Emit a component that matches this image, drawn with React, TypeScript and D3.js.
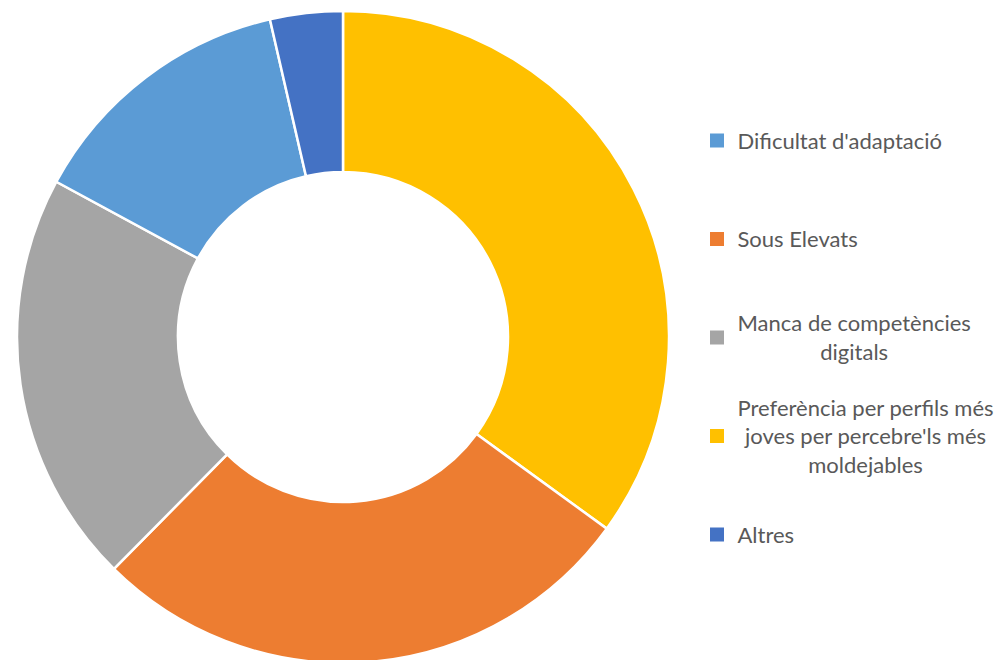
import React, { useEffect, useRef } from 'react';
import * as d3 from 'd3';

const categories = [
  "Dificultat d'adaptació",
  'Sous Elevats',
  'Manca de competències digitals',
  "Preferència per perfils més joves per percebre'ls més moldejables",
  'Altres',
];
const values = [13.5, 27.4, 20.5, 35.0, 3.6];
const colors = ['#5B9BD5', '#ED7D31', '#A5A5A5', '#FFC000', '#4472C4'];
const legendLines = [
  ["Dificultat d'adaptació"],
  ['Sous Elevats'],
  ['Manca de competències', 'digitals'],
  ['Preferència per perfils més', "joves per percebre'ls més", 'moldejables'],
  ['Altres'],
];
// order of slices clockwise from 12 o'clock (indices into categories)
const sliceOrder = [3, 1, 2, 0, 4];

export default function App() {
  const ref = useRef<SVGSVGElement>(null);
  useEffect(() => {
    const svg = d3.select(ref.current);
    svg.selectAll('*').remove();
    const cx = 343, cy = 337, rOuter = 326, rInner = 165;
    const pie = d3.pie<number>().sort(null).value((i) => values[i]);
    const arcs = pie(sliceOrder);
    const arc = d3.arc<d3.PieArcDatum<number>>().innerRadius(rInner).outerRadius(rOuter);
    const g = svg.append('g').attr('transform', `translate(${cx},${cy})`);
    g.selectAll('path')
      .data(arcs)
      .join('path')
      .attr('d', arc as any)
      .attr('fill', (d) => colors[d.data])
      .attr('stroke', '#ffffff')
      .attr('stroke-width', 2.5);

    const fs = 22;
    const lineH = 28.5;
    const textX = 737.5;
    const yScale = d3.scalePoint<number>().domain(d3.range(categories.length)).range([140.5, 534.5]);
    const lg = svg.append('g').attr('font-family', 'Lato, sans-serif').attr('font-size', fs).attr('fill', '#595959');
    categories.forEach((c, i) => {
      const cyL = yScale(i)!;
      const item = lg.append('g').attr('class', 'legend-item');
      item.append('rect').attr('x', 710).attr('y', cyL - 7).attr('width', 14).attr('height', 14).attr('fill', colors[i]);
      const lines = legendLines[i];
      const b1 = cyL + 8 - ((lines.length - 1) * lineH) / 2;
      const texts = lines.map((t, k) =>
        item.append('text').attr('x', textX).attr('y', b1 + k * lineH).text(t)
      );
      const widths = texts.map((t) => (t.node() as SVGTextElement).getComputedTextLength());
      const maxW = Math.max(...widths);
      texts.forEach((t, k) => t.attr('x', textX + (maxW - widths[k]) / 2));
    });
  }, []);
  return (
    <svg ref={ref} width={1002} height={660} style={{ position: 'absolute', left: 0, top: 0, background: '#fff' }} />
  );
}
